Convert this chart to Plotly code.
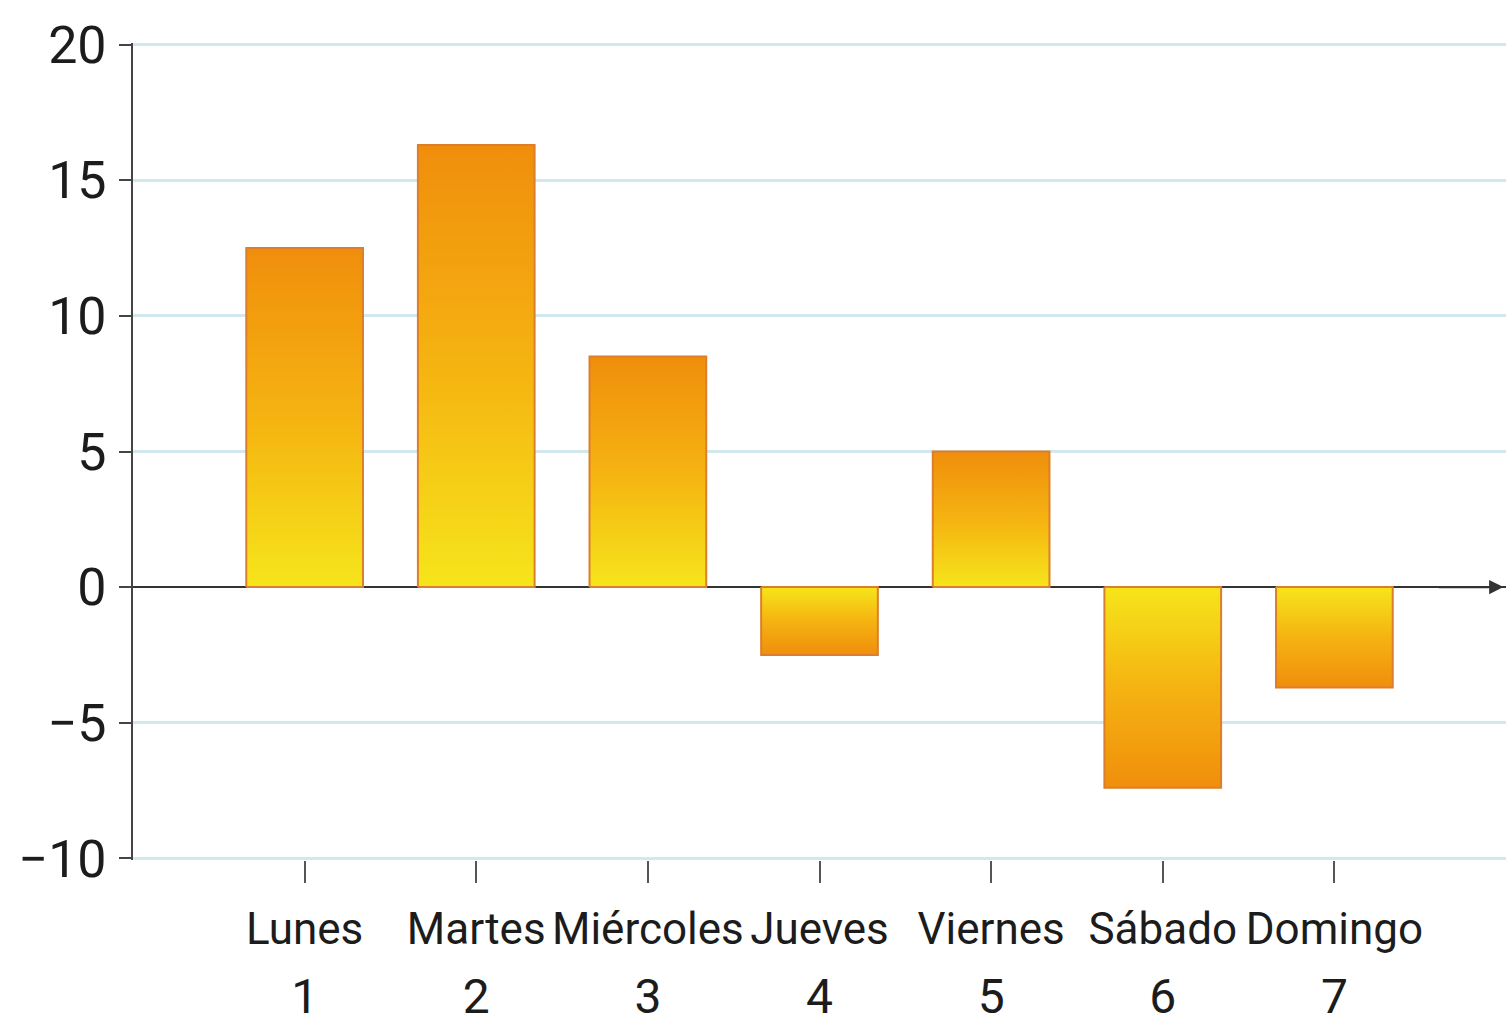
import plotly.graph_objects as go

# Data
days = ["Lunes", "Martes", "Miércoles", "Jueves", "Viernes", "Sábado", "Domingo"]
day_numbers = [1, 2, 3, 4, 5, 6, 7]
values = [12.5, 16.3, 8.5, -2.5, 5, -7.4, -3.7]
y_ticks = [-10, -5, 0, 5, 10, 15, 20]

BAR_WIDTH = 0.68
ORANGE = "#f08e0c"
MID = "#f5b311"
YELLOW = "#f6e51b"
EDGE = "#dc7f2c"
FONT = "Roboto, sans-serif"
TEXT = "#1c1c1c"

fig = go.Figure()

# Bars drawn as filled rectangles so each gets a vertical gradient:
# yellow at the zero line, orange at the far end.
for x, v in zip(day_numbers, values):
    x0, x1 = x - BAR_WIDTH / 2, x + BAR_WIDTH / 2
    if v >= 0:
        scale = [[0, YELLOW], [0.5, MID], [1, ORANGE]]
    else:
        scale = [[0, ORANGE], [0.5, MID], [1, YELLOW]]
    fig.add_trace(go.Scatter(
        x=[x0, x1, x1, x0, x0],
        y=[0, 0, v, v, 0],
        mode="lines",
        fill="toself",
        fillgradient=dict(type="vertical", colorscale=scale),
        line=dict(color=EDGE, width=2),
        hoverinfo="skip",
        showlegend=False,
    ))

# Invisible trace that carries the second row of category labels (day numbers)
fig.add_trace(go.Scatter(
    x=day_numbers, y=[0] * len(day_numbers),
    xaxis="x2", mode="markers",
    marker=dict(opacity=0, size=1),
    hoverinfo="skip", showlegend=False,
))

# Horizontal axis through zero with an arrow head
fig.add_annotation(
    x=7.985, y=0, ax=7.6, ay=0,
    xref="x", yref="y", axref="x", ayref="y",
    showarrow=True, arrowhead=2, arrowsize=1.3, arrowwidth=2.2,
    arrowcolor="#333333", text="", standoff=0,
)

fig.update_layout(
    width=1506, height=1030,
    margin=dict(l=133, r=0, t=43, b=170, autoexpand=False),
    plot_bgcolor="white",
    paper_bgcolor="white",
    font=dict(family=FONT, color=TEXT),
    xaxis=dict(
        range=[0, 8],
        tickmode="array",
        tickvals=day_numbers,
        ticktext=days,
        tickangle=0,
        tickfont=dict(size=44, family=FONT, color=TEXT),
        ticks="outside", ticklen=22, tickwidth=2, tickcolor="#555555",
        ticklabelstandoff=8,
        showgrid=False, showline=False, zeroline=False,
        automargin=False,
        fixedrange=True,
    ),
    xaxis2=dict(
        range=[0, 8],
        overlaying="x",
        anchor="y",
        side="bottom",
        tickmode="array",
        tickvals=day_numbers,
        ticktext=[str(n) for n in day_numbers],
        tickangle=0,
        tickfont=dict(size=48, family=FONT, color=TEXT),
        ticks="", ticklabelstandoff=104,
        showgrid=False, showline=False, zeroline=False,
        automargin=False,
        fixedrange=True,
    ),
    yaxis=dict(
        range=[-10.06, 20.06],
        tickmode="array",
        tickvals=y_ticks,
        tickfont=dict(size=52, family=FONT, color=TEXT),
        ticks="outside", ticklen=12, tickwidth=2, tickcolor="#444444",
        showline=True, linecolor="#444444", linewidth=2,
        showgrid=True, gridcolor="#d0e8ee", gridwidth=3,
        zeroline=True, zerolinecolor="#333333", zerolinewidth=2,
        ticklabelstandoff=2,
        automargin=False,
        fixedrange=True,
    ),
)

fig.write_html("out.html")
